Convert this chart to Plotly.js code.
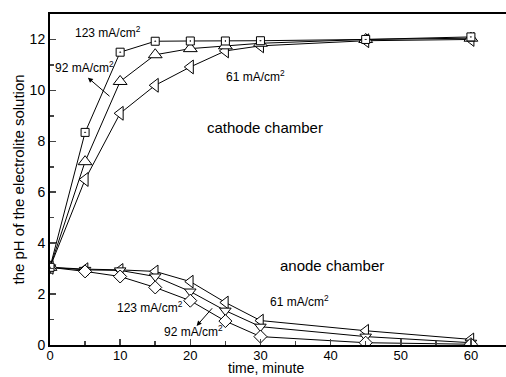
<!DOCTYPE html>
<html>
<head>
<meta charset="utf-8">
<script src="https://cdn.plot.ly/plotly-3.0.1.min.js"></script>
<style>
  html, body { margin: 0; padding: 0; background: #fff; }
  #chart { width: 506px; height: 377px; }
</style>
</head>
<body>
<div id="chart"></div>
<script>
// time in minutes
var time = [0, 5, 10, 15, 20, 25, 30, 45, 60];

// cathode chamber pH
var cathode123 = [3.05, 8.35, 11.5, 11.93, 11.94, 11.94, 11.95, 12.0, 12.1];
var cathode92  = [3.05, 7.2, 10.35, 11.4, 11.64, 11.75, 11.85, 12.0, 12.05];
var cathode61  = [3.05, 6.5, 9.1, 10.2, 10.92, 11.55, 11.75, 11.95, 12.0];

// anode chamber pH
var anode61  = [3.05, 2.98, 2.95, 2.89, 2.49, 1.67, 0.96, 0.56, 0.22];
var anode92  = [3.05, 2.95, 2.93, 2.69, 2.1, 1.35, 0.72, 0.33, 0.09];
var anode123 = [3.05, 2.89, 2.69, 2.26, 1.74, 0.94, 0.33, 0.09, 0.03];

var xTicks = [0, 10, 20, 30, 40, 50, 60];
var yTicks = [0, 2, 4, 6, 8, 10, 12];

var FONT = 'Liberation Sans, Arial, sans-serif';

function series(y, symbol, size) {
  return {
    x: time, y: y, type: 'scatter', mode: 'lines+markers',
    line: { color: '#000', width: 1 },
    marker: { symbol: symbol, size: size, color: '#fff', line: { color: '#000', width: 1 } },
    showlegend: false, hoverinfo: 'skip'
  };
}

var data = [
  series(anode61, 'triangle-left', 11),
  series(anode92, 'triangle-down', 10),
  series(anode123, 'diamond', 10),
  series(cathode61, 'triangle-left', 12),
  series(cathode92, 'triangle-up', 12),
  series(cathode123, 'square-dot', 8)
];

function label(t, x, y, size) {
  return { text: t, x: x, y: y, xref: 'x', yref: 'y', showarrow: false,
           font: { family: FONT, size: size || 12, color: '#000' } };
}
function arrow(x, y, ax, ay) {
  return { text: '', x: x, y: y, ax: ax, ay: ay, xref: 'x', yref: 'y', axref: 'x', ayref: 'y',
           showarrow: true, arrowhead: 2, arrowsize: 1, arrowwidth: 1, arrowcolor: '#000' };
}

var layout = {
  width: 506, height: 377,
  margin: { l: 50, r: 0, t: 14, b: 32 },
  paper_bgcolor: '#fff', plot_bgcolor: '#fff',
  font: { family: FONT, size: 14, color: '#000' },
  xaxis: {
    range: [0, 65], tickvals: xTicks, ticks: 'inside', ticklen: 6, tickwidth: 1.5,
    minor: { tickvals: [5, 15, 25, 35, 45, 55], ticks: 'inside', ticklen: 4, tickwidth: 1.5 },
    showline: true, linewidth: 2, linecolor: '#000', mirror: true,
    showgrid: false, zeroline: false,
    tickfont: { family: FONT, size: 13 }, ticklabelstandoff: -3,
    title: { text: '' }
  },
  yaxis: {
    range: [0, 13], tickvals: yTicks, ticks: 'inside', ticklen: 6, tickwidth: 1.5,
    minor: { tickvals: [1, 3, 5, 7, 9, 11], ticks: 'inside', ticklen: 4, tickwidth: 1.5 },
    showline: true, linewidth: 2, linecolor: '#000',
    showgrid: false, zeroline: false,
    tickfont: { family: FONT, size: 14 },
    title: { text: '' }
  },
  annotations: [
    { text: 'time, minute', xref: 'paper', yref: 'paper', x: (266 - 50) / 456, y: -(377 - 345) / 331,
      xanchor: 'center', yanchor: 'bottom', showarrow: false, font: { family: FONT, size: 14 },
      borderpad: 0 },
    { text: 'the pH of the electrolite solution', xref: 'paper', yref: 'paper', x: -(50 - 18) / 456, y: 0.5,
      xanchor: 'center', yanchor: 'middle', textangle: -90, showarrow: false, font: { family: FONT, size: 15 } },
    label('123 mA/cm<sup>2</sup>', 8.2, 12.3),
    label('92 mA/cm<sup>2</sup>', 4.9, 10.9),
    arrow(5.4, 10.5, 8.7, 9.72),
    label('61 mA/cm<sup>2</sup>', 29.3, 10.55),
    label('cathode chamber', 30.7, 8.54, 15),
    label('anode chamber', 40.2, 3.11, 15),
    label('61 mA/cm<sup>2</sup>', 35.6, 1.73),
    label('123 mA/cm<sup>2</sup>', 14.3, 1.5),
    label('92 mA/cm<sup>2</sup>', 20.4, 0.55),
    arrow(20.9, 0.75, 23.3, 1.5)
  ]
};

Plotly.newPlot('chart', data, layout, { staticPlot: true, displayModeBar: false });
</script>
</body>
</html>
